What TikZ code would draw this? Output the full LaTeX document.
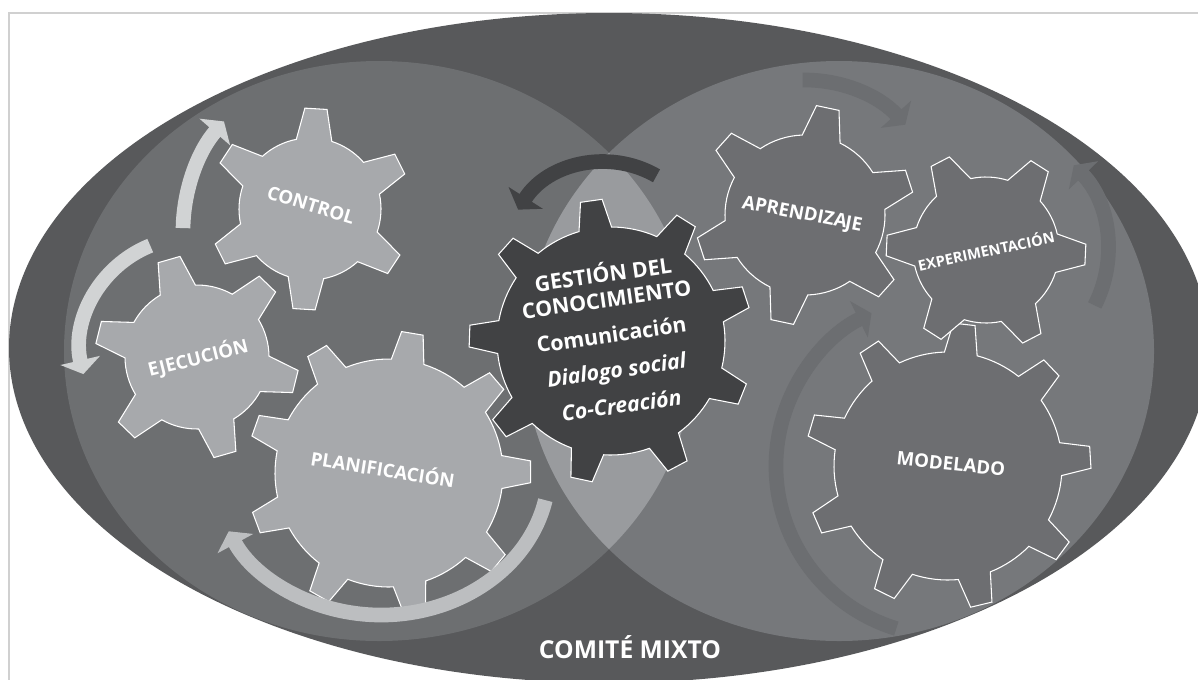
\documentclass[tikz,border=0pt]{standalone}
\usepackage{fontspec}
\setmainfont{Open Sans}
\usetikzlibrary{arrows.meta}

\definecolor{framegray}{HTML}{D0D0D0}
\definecolor{ovaldark}{HTML}{58595B}
\definecolor{leftzone}{HTML}{6D6F71}
\definecolor{rightzone}{HTML}{76787B}
\definecolor{lenszone}{HTML}{999B9E}
\definecolor{gearlight}{HTML}{A7A9AC}
\definecolor{geardark}{HTML}{414244}
\definecolor{gearmid}{HTML}{6D6E71}
\definecolor{arrowlight}{HTML}{D1D3D4}
\definecolor{arrowmid}{HTML}{BCBEC0}
\definecolor{arrowfaint}{HTML}{6C6E71}

\newcommand{\gear}[6]{%
  ({#6-#4}:#2)
  \foreach \k in {1,...,#1}{
    -- ({#6+(\k-1)*360/#1-#5}:#3)
    -- ({#6+(\k-1)*360/#1+#5}:#3)
    -- ({#6+(\k-1)*360/#1+#4}:#2)
    arc[start angle={#6+(\k-1)*360/#1+#4}, end angle={#6+\k*360/#1-#4}, radius=#2]
  } -- cycle}

\tikzset{
  lightgear/.style={fill=gearlight, draw=white, line width=0.8pt},
  darkgear/.style={fill=geardark, draw=white, line width=0.8pt},
  midgear/.style={fill=gearmid, draw=white, line width=0.8pt},
  gearlabel/.style={text=white, font=\bfseries\fontsize{14}{16}\selectfont},
  turn/.style={line width=11pt, -{Triangle[width=30pt,length=10.5pt]}}
}

\begin{document}
\begin{tikzpicture}[x=0.75pt, y=-0.75pt]
  \useasboundingbox (0,0) rectangle (1198,679);
  \clip (0,0) rectangle (1198,679);
  \draw[framegray, line width=0.8pt] (9,13) rectangle (1240,720);
  \fill[ovaldark] (609,348) ellipse [x radius=600, y radius=335];
  \fill[leftzone] (379,351) ellipse [x radius=315, y radius=290];
  \fill[rightzone] (839,351) ellipse [x radius=315, y radius=290];
  \begin{scope}
    \clip (379,351) ellipse [x radius=315, y radius=290];
    \fill[lenszone] (839,351) ellipse [x radius=315, y radius=290];
  \end{scope}

  \draw[lightgear, shift={(310,209)}] \gear{6}{71}{101}{14.5}{6.3}{33.4};
  \draw[lightgear, shift={(197,357)}] \gear{6}{72}{102}{14.7}{6.4}{14};
  \draw[lightgear, shift={(389,473)}] \gear{9}{114}{142}{8.3}{4.4}{-0.5};
  \draw[darkgear, shift={(611,341)}] \gear{9}{114}{142}{8.3}{4.4}{22};
  \draw[midgear, shift={(805,215)}] \gear{6}{80}{110}{14}{6}{42};
  \draw[midgear, shift={(948,466)}] \gear{9}{114}{143}{8.3}{4.4}{36.5};
  \draw[midgear, shift={(986,250)}] \gear{6}{73}{100}{15.3}{5.9}{2.6};

  \draw[turn, arrowlight] ([shift={(181:167)}]350,231) arc[start angle=181, end angle=221, radius=167];
  \draw[turn, arrowlight] ([shift={(248:111.5)}]192,349) arc[start angle=248, end angle=167, radius=111.5];
  \draw[turn, arrowmid] ([shift={(12:168 and 145)}]381,470) arc[start angle=12, end angle=155, x radius=168, y radius=145];
  \draw[turn, geardark] ([shift={(300:103)}]605,265) arc[start angle=300, end angle=212.5, radius=103];
  \draw[turn, arrowfaint] ([shift={(269:135)}]805,215) arc[start angle=269, end angle=318, radius=135];
  \draw[turn, arrowfaint] ([shift={(27:122)}]986,250) arc[start angle=27, end angle=-44, radius=122];
  \draw[turn, arrowfaint] ([shift={(107:170)}]946,466) arc[start angle=107, end angle=244, radius=170];

  \node[gearlabel, rotate=-17] (control) at (311,205) {CONTROL};
  \node[gearlabel, rotate=14] (ejecucion) at (198,358) {EJECUCIÓN};
  \node[gearlabel, rotate=-9] (planificacion) at (383,468) {PLANIFICACIÓN};
  \node[gearlabel, rotate=-11] (aprendizaje) at (802,215) {APRENDIZA\kern-0.9pt JE};
  \node[gearlabel, font=\bfseries\fontsize{11}{13}\selectfont, rotate=12] (experimentacion) at (986,250) {EXPERIMENTACIÓN};
  \node[gearlabel, rotate=-6] (modelado) at (951,464) {MODELADO};
  \node[gearlabel, font=\bfseries\fontsize{16}{18.75}\selectfont, align=center, rotate=8] (gestion) at (612,338)
    {GESTIÓN DEL\\CONOCIMIENTO\\[8pt]Comunicación\\[8pt]{\itshape Dialogo social}\\[8pt]{\itshape Co-Creación}};
  \node[gearlabel, font=\bfseries\fontsize{18.5}{20}\selectfont, anchor=base] (comite) at (630,658) {COMITÉ MIXTO};
\end{tikzpicture}
\end{document}
